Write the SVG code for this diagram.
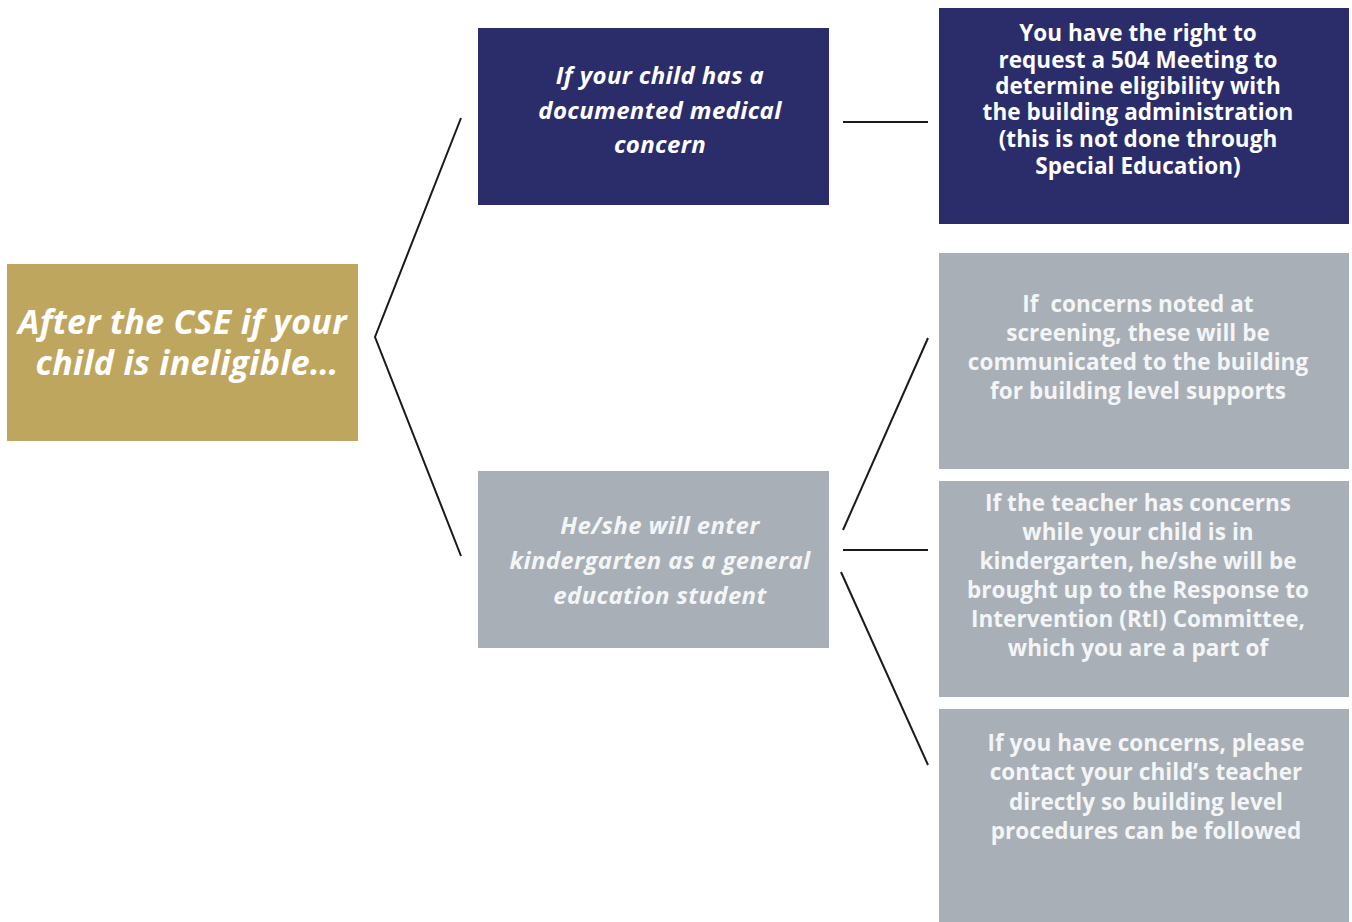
<svg xmlns="http://www.w3.org/2000/svg" width="1352" height="922" viewBox="0 0 1352 922">
<style>
.t{font-family:"Open Sans","Liberation Sans",sans-serif;font-weight:700;text-anchor:middle;fill:#ffffff}
.i{font-style:italic}
.g{fill:#f4f5f6}
.r{font-size:22.5px;letter-spacing:0.05px}
.m{font-size:24px;letter-spacing:0.35px}
.c{stroke:#1a1a1a;stroke-width:2;fill:none}
</style>
<rect width="1352" height="922" fill="#ffffff"/>
<g id="connectors">
<path class="c" d="M461,118 L375,337 L461,556"/>
<line class="c" x1="843" y1="122" x2="928" y2="122"/>
<line class="c" x1="843" y1="530" x2="928" y2="338"/>
<line class="c" x1="843" y1="550" x2="928" y2="550"/>
<line class="c" x1="841" y1="572" x2="928" y2="765"/>
</g>
<g id="root">
<rect x="7" y="264" width="351" height="177" fill="#bfa65e"/>
<text class="t i" font-size="34" letter-spacing="0.3">
<tspan x="187" y="334">After the CSE if your</tspan>
<tspan x="187" y="375">child is ineligible…</tspan>
</text>
</g>
<g id="medical">
<rect x="478" y="28" width="351" height="177" fill="#2b2d6b"/>
<text class="t i m"><tspan x="660" y="84">If your child has a</tspan><tspan x="660" y="119">documented medical</tspan><tspan x="660" y="153">concern</tspan></text>
</g>
<g id="right504">
<rect x="939" y="8" width="410" height="216" fill="#2b2d6b"/>
<text class="t r"><tspan x="1138" y="41">You have the right to</tspan><tspan x="1138" y="68">request a 504 Meeting to</tspan><tspan x="1138" y="94">determine eligibility with</tspan><tspan x="1138" y="120">the building administration</tspan><tspan x="1138" y="147">(this is not done through</tspan><tspan x="1138" y="174">Special Education)</tspan></text>
</g>
<g id="general">
<rect x="478" y="471" width="351" height="177" fill="#a8afb6"/>
<text class="t i m g"><tspan x="660" y="534">He/she will enter</tspan><tspan x="660" y="569">kindergarten as a general</tspan><tspan x="660" y="604">education student</tspan></text>
</g>
<g id="screening">
<rect x="939" y="253" width="410" height="216" fill="#a8afb6"/>
<text class="t r g" xml:space="preserve"><tspan x="1138" y="312">If  concerns noted at</tspan><tspan x="1138" y="341">screening, these will be</tspan><tspan x="1138" y="370">communicated to the building</tspan><tspan x="1138" y="399">for building level supports</tspan></text>
</g>
<g id="teacher">
<rect x="939" y="481" width="410" height="216" fill="#a8afb6"/>
<text class="t r g"><tspan x="1138" y="511">If the teacher has concerns</tspan><tspan x="1138" y="540">while your child is in</tspan><tspan x="1138" y="569">kindergarten, he/she will be</tspan><tspan x="1138" y="598">brought up to the Response to</tspan><tspan x="1138" y="627">Intervention (RtI) Committee,</tspan><tspan x="1138" y="656">which you are a part of</tspan></text>
</g>
<g id="parent">
<rect x="939" y="709" width="410" height="213" fill="#a8afb6"/>
<text class="t r g"><tspan x="1146" y="751">If you have concerns, please</tspan><tspan x="1146" y="780">contact your child’s teacher</tspan><tspan x="1146" y="810">directly so building level</tspan><tspan x="1146" y="839">procedures can be followed</tspan></text>
</g>
</svg>
